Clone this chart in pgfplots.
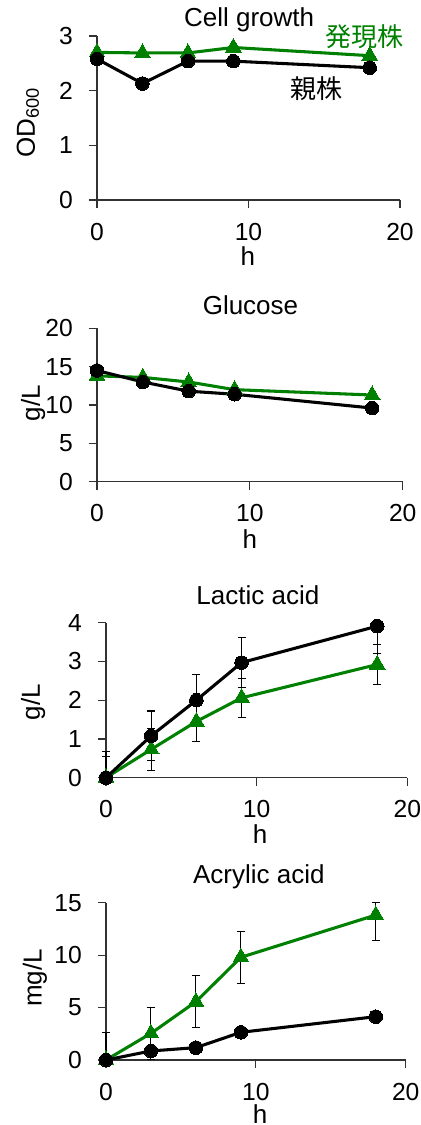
\documentclass[border=0pt]{standalone}
\usepackage{fontspec}
\setmainfont{Liberation Sans}
\newfontfamily\jp{Noto Sans CJK JP}
\usepackage{pgfplots}
\pgfplotsset{compat=1.18}
\definecolor{grn}{RGB}{0,128,0}
\definecolor{axc}{RGB}{50,50,50}
\tikzset{lab/.style={font=\fontsize{19.5}{21}\selectfont, inner sep=0pt, anchor=center}}
\pgfplotsset{
 panel/.style={
  scale only axis, anchor=south west,
  axis x line*=bottom, axis y line*=left,
  axis line style={-, line width=0.9pt, axc},
  tick align=outside, major tick length=6pt,
  tick style={line width=0.9pt, axc},
  xmin=0, xmax=20, xtick={0,10,20},
  ymin=0,
  font=\fontsize{18.5}{20}\selectfont,
  tick label style={font=\fontsize{18.5}{20}\selectfont},
  /pgf/number format/assume math mode=true,
  clip=false,
  yticklabel style={anchor=east, inner sep=0pt, xshift=-12pt},
  xticklabel style={anchor=north, inner sep=0pt, yshift=-11pt},
 },
 grnplot/.style={grn, line width=2.3pt, mark=triangle*, mark size=6.8pt,
   mark options={solid, fill=grn, draw=grn, line width=0pt},
   error bars/error bar style={black, line width=0.8pt},
   error bars/error mark options={black, rotate=90, mark size=3pt, line width=0.8pt}},
 blkplot/.style={black, line width=2.3pt, mark=*, mark size=5.1pt,
   mark options={solid, fill=black, draw=black, line width=0pt},
   error bars/error bar style={black, line width=0.8pt},
   error bars/error mark options={black, rotate=90, mark size=3pt, line width=0.8pt}},
}
\begin{document}
\begin{tikzpicture}
\path[use as bounding box] (0pt,0pt) rectangle (315.75pt,843.75pt);
% Panel 1: Cell growth
\begin{axis}[panel, at={(72.75pt,693.75pt)}, width=227.25pt, height=123pt,
  ymax=3, ytick={0,1,2,3}]
\addplot[grnplot] coordinates {(0,2.70) (3,2.69) (6,2.69) (9,2.79) (18,2.64)};
\addplot[blkplot] coordinates {(0,2.58) (3,2.13) (6,2.54) (9,2.54) (18,2.42)};
\node[lab] at (rel axis cs:0.502,1.098) {Cell growth};
\node[lab, text=grn] at (rel axis cs:0.884,0.994) {\jp 発現株};
\node[lab] at (rel axis cs:0.723,0.677) {\jp 親株};
\node[lab, rotate=90] at (rel axis cs:-0.228,0.47) {OD\textsubscript{600}};
\node[lab] at (rel axis cs:0.498,-0.345) {h};
\end{axis}
% Panel 2: Glucose
\begin{axis}[panel, at={(72.75pt,482.5pt)}, width=229.3pt, height=115pt,
  ymax=20, ytick={0,5,10,15,20}]
\addplot[grnplot] coordinates {(0,13.8) (3,13.6) (6,13.0) (9,12.0) (18,11.3)};
\addplot[blkplot] coordinates {(0,14.5) (3,13.0) (6,11.8) (9,11.4) (18,9.6)};
\node[lab] at (rel axis cs:0.502,1.152) {Glucose};
\node[lab, rotate=90] at (rel axis cs:-0.209,0.512) {g/L};
\node[lab] at (rel axis cs:0.5,-0.375) {h};
\end{axis}
% Panel 3: Lactic acid
\begin{axis}[panel, at={(79.5pt,260.5pt)}, width=226pt, height=116.25pt,
  ymax=4, ytick={0,1,2,3,4}]
\addplot[grnplot, error bars/.cd, y dir=both, y explicit] coordinates {
  (0,0) += (0,0.55) -= (0,0) (3,0.73) +- (0,0.55) (6,1.45) +- (0,0.52) (9,2.06) +- (0,0.51) (18,2.92) +- (0,0.52)};
\addplot[blkplot, error bars/.cd, y dir=both, y explicit] coordinates {
  (0,0) += (0,0.67) -= (0,0) (3,1.08) +- (0,0.64) (6,2.00) +- (0,0.67) (9,2.97) +- (0,0.64) (18,3.91) += (0,0.09) -= (0,0.70)};
\node[lab] at (rel axis cs:0.504,1.179) {Lactic acid};
\node[lab, rotate=90] at (rel axis cs:-0.242,0.488) {g/L};
\node[lab] at (rel axis cs:0.511,-0.365) {h};
\end{axis}
% Panel 4: Acrylic acid
\begin{axis}[panel, at={(79.5pt,48.75pt)}, width=224.8pt, height=118pt,
  ymax=15, ytick={0,5,10,15}]
\addplot[grnplot, error bars/.cd, y dir=both, y explicit] coordinates {
  (0,0) += (0,2.6) -= (0,0) (3,2.54) +- (0,2.45) (6,5.56) +- (0,2.5) (9,9.79) +- (0,2.5) (18,13.82) += (0,1.18) -= (0,2.44)};
\addplot[blkplot, error bars/.cd, y dir=both, y explicit] coordinates {
  (0,0) += (0,0.3) -= (0,0) (3,0.86) +- (0,0.3) (6,1.18) +- (0,0.4) (9,2.64) +- (0,0.4) (18,4.13) +- (0,0.5)};
\node[lab] at (rel axis cs:0.51,1.163) {Acrylic acid};
\node[lab, rotate=90] at (rel axis cs:-0.237,0.521) {mg/L};
\node[lab] at (rel axis cs:0.514,-0.345) {h};
\end{axis}
\end{tikzpicture}
\end{document}
